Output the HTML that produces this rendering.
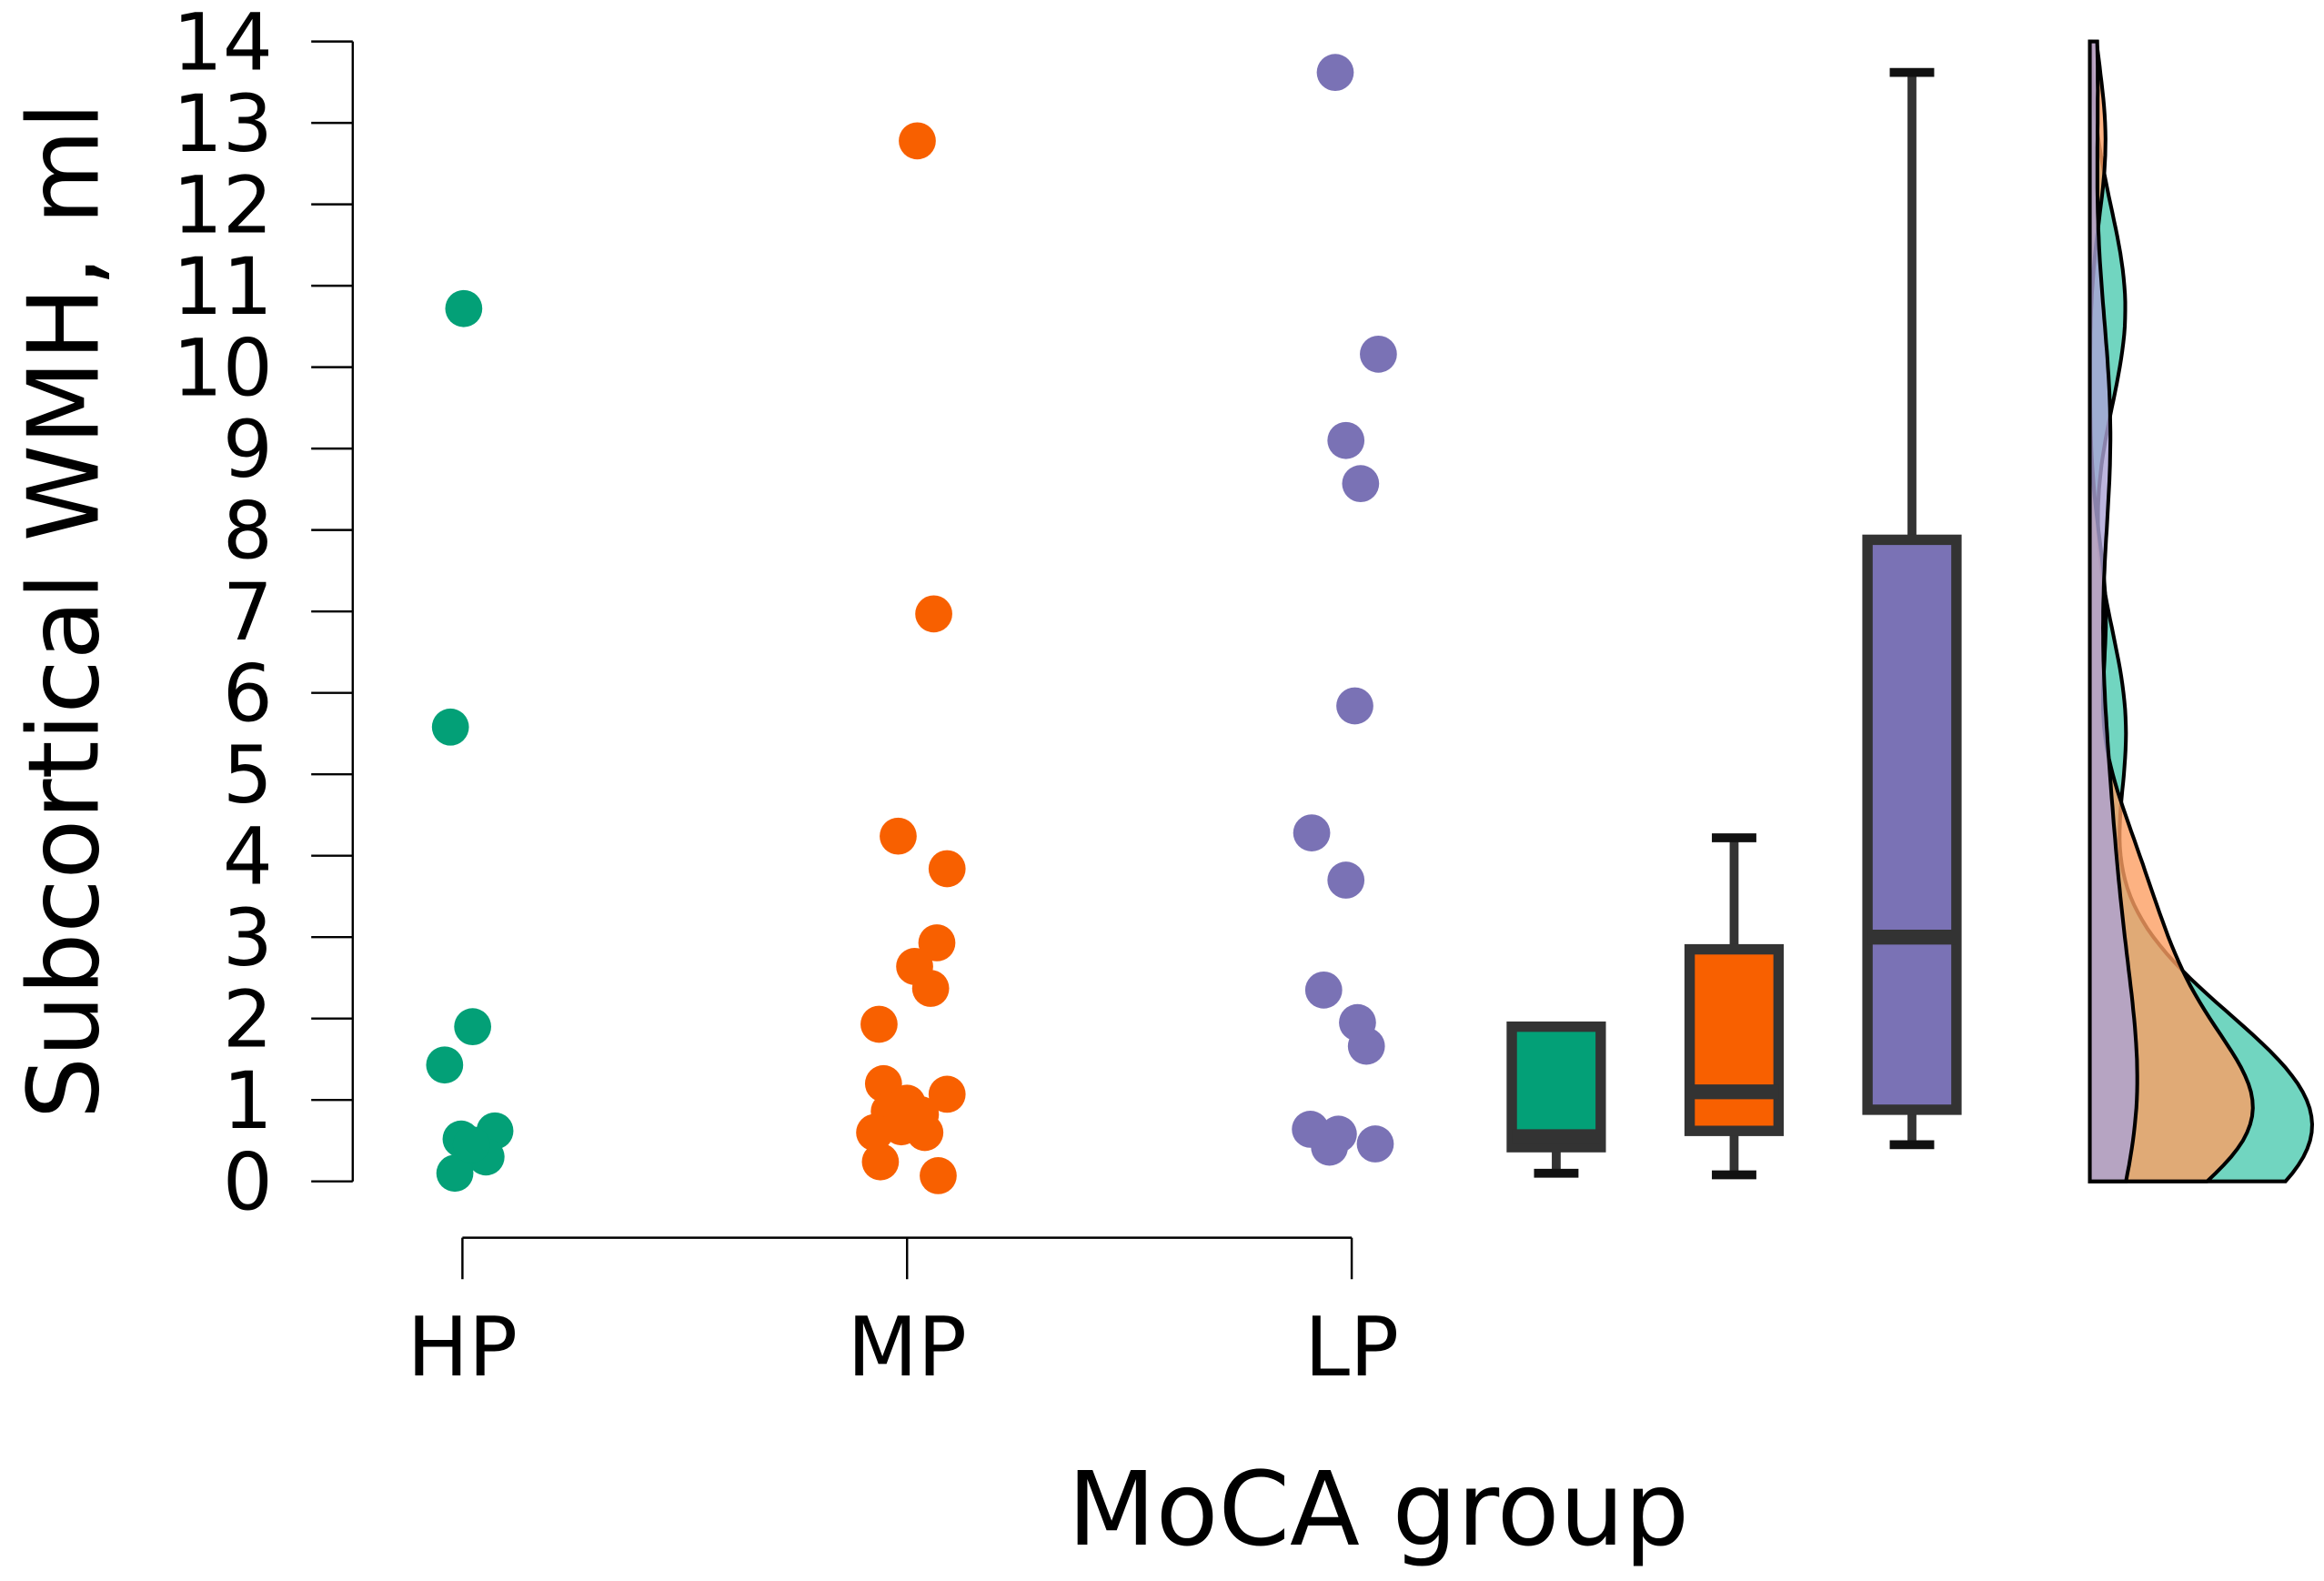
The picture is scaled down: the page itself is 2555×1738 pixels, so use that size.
<!DOCTYPE html>
<html><head><meta charset="utf-8"><style>
html,body{margin:0;padding:0;background:#fff}
svg{display:block}
text{font-family:"DejaVu Sans","Liberation Sans",sans-serif;fill:#000}
</style></head><body>
<svg id="chart" width="2555" height="1738" viewBox="0 0 1568 1066.6" xmlns="http://www.w3.org/2000/svg">
<g id="axes"></g>
<g id="points"></g>
<g id="boxes"></g>
<g id="violins"></g>
<text x="930" y="1042" font-size="69" text-anchor="middle">MoCA group</text>
<text transform="translate(66,412) rotate(-90)" font-size="66" text-anchor="middle">Subcortical WMH, ml</text>
</svg>
<script>
const categories = ["HP","MP","LP"];
const colors = ["#03a077","#f86000","#7a72b5"];
const violinFills = ["#4ecbb0","#fd9f63","#aba2d6"];
const yTicks = [0,1,2,3,4,5,6,7,8,9,10,11,12,13,14];
const hpValues = [10.72,5.58,1.9,1.43,0.62,0.52,0.3,0.1,0.45];
const mpValues = [12.78,6.97,4.24,3.84,2.93,2.64,2.37,1.93,1.2,1.07,0.96,0.86,0.82,0.67,0.6,0.6,0.24,0.07];
const lpValues = [13.62,10.16,9.1,8.57,5.84,4.28,3.7,2.35,1.95,1.66,0.64,0.58,0.42,0.46];
const hpJitter = [0.003,-0.027,0.023,-0.04,0.073,-0.003,0.053,-0.017,0.02];
const mpJitter = [0.023,0.06,-0.02,0.09,0.067,0.017,0.053,-0.063,-0.053,0.09,0,-0.04,0.03,-0.013,-0.073,0.04,-0.06,0.07];
const lpJitter = [-0.037,0.06,-0.013,0.02,0.007,-0.09,-0.013,-0.063,0.013,0.033,-0.093,-0.03,-0.05,0.053];
// boxplot stats: [lowWhisker, q1, median, q3, highWhisker]
const hpBox = [0.1,0.42,0.55,1.9,1.9];
const mpBox = [0.08,0.62,1.1,2.85,4.22];
const lpBox = [0.45,0.88,3.0,7.88,13.62];
const violinMaxWidth = [150,110,32];

const groups=[hpValues,mpValues,lpValues], jitters=[hpJitter,mpJitter,lpJitter], boxes=[hpBox,mpBox,lpBox];
const NS="http://www.w3.org/2000/svg";
const y0=797, y14=28, yMax=14;
const Y=v=>y0-(v/yMax)*(y0-y14);
const X=i=>312+i*300;
const boxX=i=>1050+i*120;
function mk(tag,attrs,parent){const e=document.createElementNS(NS,tag);for(const k in attrs)e.setAttribute(k,attrs[k]);parent.appendChild(e);return e;}
const axes=document.getElementById('axes');
let l=mk('line',{x1:238,x2:238,y1:Y(0),y2:Y(14),stroke:'#000','stroke-width':1.5},axes);


yTicks.forEach(t=>{
  const tk=mk('line',{x1:210,x2:238,y1:Y(t),y2:Y(t),stroke:'#000','stroke-width':1.5},axes);
  
  
  const tx=mk('text',{x:184,y:Y(t)+19,'font-size':53,'text-anchor':'end'},axes);
  tx.textContent=t;
  
  
});
l=mk('line',{x1:X(0),x2:X(2),y1:835,y2:835,stroke:'#000','stroke-width':1.5},axes);


categories.forEach((c,i)=>{
  const tk=mk('line',{x1:X(i),x2:X(i),y1:835,y2:863,stroke:'#000','stroke-width':1.5},axes);
  
  
  const tx=mk('text',{x:X(i),y:928,'font-size':55,'text-anchor':'middle'},axes);
  tx.textContent=c;
  
  
});
const pts=document.getElementById('points');
groups.forEach((g,i)=>g.forEach((v,j)=>{
  const c=mk('circle',{cx:X(i)+jitters[i][j]*300,cy:Y(v),r:12.5,fill:colors[i]},pts);
  
  
}));
const bx=document.getElementById('boxes');
boxes.forEach((b,i)=>{
  const cx=boxX(i), hw=30, cw=15;
  const g=mk('g',{},bx);
  
  
  mk('line',{x1:cx,x2:cx,y1:Y(b[0]),y2:Y(b[1]),stroke:'#333','stroke-width':6},g);
  mk('line',{x1:cx,x2:cx,y1:Y(b[3]),y2:Y(b[4]),stroke:'#333','stroke-width':6},g);
  mk('line',{x1:cx-cw,x2:cx+cw,y1:Y(b[0]),y2:Y(b[0]),stroke:'#111','stroke-width':6},g);
  if(b[4]>b[3]) mk('line',{x1:cx-cw,x2:cx+cw,y1:Y(b[4]),y2:Y(b[4]),stroke:'#111','stroke-width':6},g);
  mk('rect',{x:cx-hw,y:Y(b[3]),width:2*hw,height:Y(b[1])-Y(b[3]),fill:colors[i],stroke:'#333','stroke-width':7},g);
  mk('line',{x1:cx-hw,x2:cx+hw,y1:Y(b[2]),y2:Y(b[2]),stroke:'#333','stroke-width':10},g);
});
const vg=document.getElementById('violins');
groups.forEach((g,i)=>{
  const n=g.length, m=g.reduce((a,b)=>a+b,0)/n;
  const sd=Math.sqrt(g.reduce((a,b)=>a+(b-m)*(b-m),0)/(n-1));
  const h=0.9*sd*Math.pow(n,-0.2)*0.6;
  const dens=[];
  for(let k=0;k<=140;k++){const v=k*0.1;let d=0;g.forEach(x=>{const z=(v-x)/h;d+=Math.exp(-0.5*z*z);});dens.push([v,d]);}
  const mx=Math.max(...dens.map(d=>d[1]));
  let p='M1410,'+Y(0);
  dens.forEach(([v,d])=>{p+=' L'+(1410+d/mx*violinMaxWidth[i]).toFixed(1)+','+Y(v).toFixed(1);});
  p+=' L1410,'+Y(14)+' Z';
  const e=mk('path',{d:p,fill:violinFills[i],'fill-opacity':0.8,stroke:'#000','stroke-width':2.5},vg);
  
  
});
</script>
</body></html>
